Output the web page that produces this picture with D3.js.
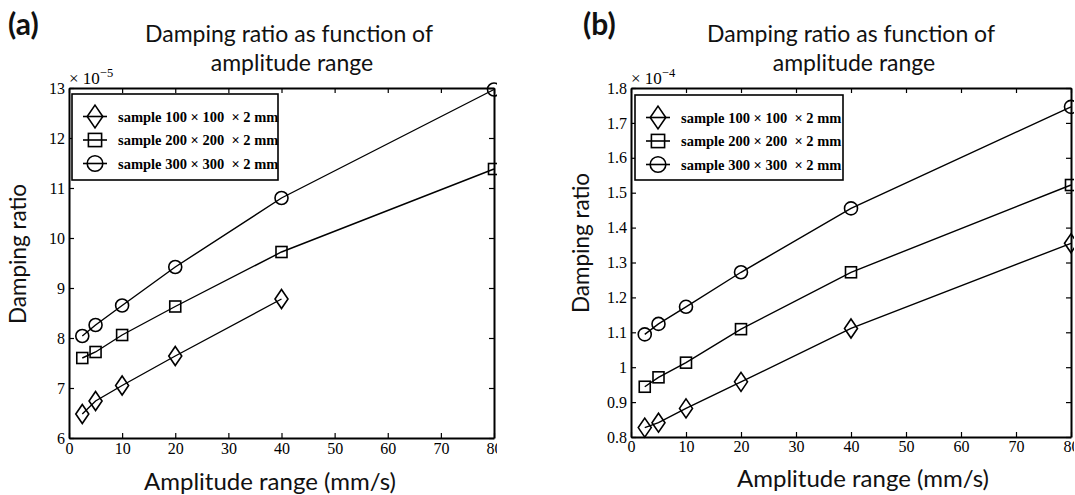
<!DOCTYPE html>
<html>
<head>
<meta charset="utf-8">
<script src="https://cdn.jsdelivr.net/npm/d3@7"></script>
<style>
  body { margin: 0; background: #fff; }
  svg { display: block; }
  .tick text { font-family: "Liberation Serif", "Times New Roman", serif; font-size: 16px; fill: #000; }
  .legend-text { font-family: "Liberation Serif", "Times New Roman", serif; font-size: 14.5px; font-weight: bold; }
  .sans { font-family: Lato, "Noto Sans", sans-serif; fill: #111; }
</style>
</head>
<body>
<svg id="chart" width="1075" height="495"></svg>
<script>
// amplitude range values (mm/s)
const amplitudes = [2.5, 5, 10, 20, 40, 80];
const sampleNames = ["sample 100 \u00d7 100  \u00d7 2 mm", "sample 200 \u00d7 200  \u00d7 2 mm", "sample 300 \u00d7 300  \u00d7 2 mm"];
const markerTypes = ["diamond", "square", "circle"];

// panel (a), x 10^-5
const dampA100 = [6.48, 6.74, 7.05, 7.64, 8.78];
const dampA200 = [7.60, 7.72, 8.06, 8.63, 9.72, 11.38];
const dampA300 = [8.04, 8.26, 8.65, 9.42, 10.80, 12.97];

// panel (b), x 10^-4
const dampB100 = [0.827, 0.841, 0.882, 0.958, 1.111, 1.355];
const dampB200 = [0.944, 0.971, 1.013, 1.109, 1.272, 1.522];
const dampB300 = [1.094, 1.124, 1.173, 1.272, 1.455, 1.746];

const xTicks = [0, 10, 20, 30, 40, 50, 60, 70, 80];
const yTicksA = [6, 7, 8, 9, 10, 11, 12, 13];
const yTicksB = [0.8, 0.9, 1.0, 1.1, 1.2, 1.3, 1.4, 1.5, 1.6, 1.7, 1.8];

const svg = d3.select("#chart");

function drawMarker(g, type, x, y, big) {
    const k = big ? 1.2 : 1;
    if (type === "diamond") {
        const w = 6.5 * k, h = 9.5 * k;
        g.append("path")
            .attr("d", `M${x},${y - h}L${x + w},${y}L${x},${y + h}L${x - w},${y}Z`);
    } else if (type === "square") {
        const s = 5.5 * k;
        g.append("rect")
            .attr("x", x - s).attr("y", y - s)
            .attr("width", 2 * s).attr("height", 2 * s);
    } else {
        g.append("circle")
            .attr("cx", x).attr("cy", y)
            .attr("r", 6.5 * k);
    }
}

function drawPanel(cfg) {
    const w = cfg.right - cfg.left, h = cfg.bottom - cfg.top;
    const x = d3.scaleLinear().domain([0, 80]).range([0, w]);
    const y = d3.scaleLinear().domain(cfg.yDomain).range([h, 0]);

    svg.append("clipPath").attr("id", "clip-" + cfg.id)
        .append("rect")
        .attr("x", -100).attr("y", -100)
        .attr("width", w + 103).attr("height", h + 200);

    const g = svg.append("g")
        .attr("transform", `translate(${cfg.left},${cfg.top})`)
        .attr("clip-path", `url(#clip-${cfg.id})`);

    // series lines and markers
    cfg.series.forEach(function (vals, i) {
        const pts = vals.map((v, j) => [x(amplitudes[j]), y(v)]);
        g.append("path")
            .attr("d", d3.line()(pts))
            .attr("fill", "none")
            .attr("stroke", "#000")
            .attr("stroke-width", 1.4);
        const mg = g.append("g")
            .attr("fill", "none")
            .attr("stroke", "#000")
            .attr("stroke-width", 1.6);
        pts.forEach(p => drawMarker(mg, markerTypes[i], p[0], p[1], false));
    });

    // axes box, ticks pointing inward
    g.append("g")
        .attr("transform", `translate(0,${h})`)
        .call(d3.axisBottom(x).tickValues(xTicks).tickSizeInner(-5).tickSizeOuter(0).tickPadding(cfg.xPad));
    g.append("g")
        .call(d3.axisTop(x).tickValues(xTicks).tickSizeInner(-5).tickSizeOuter(0).tickFormat(""));
    g.append("g")
        .call(d3.axisLeft(y).tickValues(cfg.yTicks).tickSizeInner(-5).tickSizeOuter(0).tickPadding(4).tickFormat(d3.format("~g")));
    g.append("g")
        .attr("transform", `translate(${w},0)`)
        .call(d3.axisRight(y).tickValues(cfg.yTicks).tickSizeInner(-5).tickSizeOuter(0).tickFormat(""));
    g.selectAll(".domain").attr("stroke-width", 2);
    g.selectAll(".tick line").attr("stroke-width", 1.2);

    // legend
    const lg = svg.append("g");
    lg.append("rect")
        .attr("x", cfg.legend.x).attr("y", cfg.legend.y)
        .attr("width", cfg.legend.w).attr("height", cfg.legend.h)
        .attr("fill", "#fff").attr("stroke", "#000").attr("stroke-width", 1.6);
    sampleNames.forEach(function (name, i) {
        const ry = cfg.legend.y + 22.5 + i * 23.5;
        const mx = cfg.legend.x + 23;
        lg.append("line")
            .attr("x1", mx - 12).attr("x2", mx + 12)
            .attr("y1", ry).attr("y2", ry)
            .attr("stroke", "#000").attr("stroke-width", 1.6);
        const mg = lg.append("g").attr("fill", "none").attr("stroke", "#000").attr("stroke-width", 1.6);
        drawMarker(mg, markerTypes[i], mx, ry, true);
        lg.append("text")
            .attr("class", "legend-text")
            .attr("x", cfg.legend.x + 46)
            .attr("y", ry + 5)
            .attr("xml:space", "preserve")
            .text(name);
    });

    // exponent label
    const ex = svg.append("text")
        .attr("x", cfg.left)
        .attr("y", cfg.top - 4)
        .attr("font-family", "Liberation Serif, serif")
        .attr("font-size", 17);
    ex.append("tspan").text("\u00d7 10");
    ex.append("tspan").attr("dy", -7).attr("font-size", 12.5).text("\u2212" + cfg.exp);

    // panel tag and titles
    svg.append("text").attr("class", "sans")
        .attr("x", cfg.tagX).attr("y", 35)
        .attr("font-size", 30).attr("font-weight", "bold")
        .text(cfg.tag);
    svg.append("text").attr("class", "sans")
        .attr("x", cfg.titleX).attr("y", 42)
        .attr("text-anchor", "middle").attr("font-size", 23)
        .text("Damping ratio as function of");
    svg.append("text").attr("class", "sans")
        .attr("x", cfg.titleX + 3).attr("y", 71)
        .attr("text-anchor", "middle").attr("font-size", 23)
        .text("amplitude range");

    svg.append("text").attr("class", "sans")
        .attr("x", cfg.xLabelX).attr("y", cfg.xLabelY)
        .attr("text-anchor", "middle").attr("font-size", 24)
        .text("Amplitude range (mm/s)");
    svg.append("text").attr("class", "sans")
        .attr("transform", `translate(${cfg.yLabelX},${cfg.yLabelY}) rotate(-90)`)
        .attr("text-anchor", "middle").attr("font-size", 22.5)
        .text("Damping ratio");
}

drawPanel({
    id: "a", tag: "(a)", tagX: 8, titleX: 289, exp: "5",
    left: 69, right: 494, top: 88, bottom: 438,
    yDomain: [6, 13], yTicks: yTicksA, xPad: 5,
    series: [dampA100, dampA200, dampA300],
    legend: { x: 72, y: 94, w: 206, h: 86 },
    xLabelX: 270, xLabelY: 490, yLabelX: 26, yLabelY: 254
});

drawPanel({
    id: "b", tag: "(b)", tagX: 583, titleX: 851, exp: "4",
    left: 631, right: 1071, top: 88, bottom: 437,
    yDomain: [0.8, 1.8], yTicks: yTicksB, xPad: 4,
    series: [dampB100, dampB200, dampB300],
    legend: { x: 635, y: 95, w: 208, h: 85 },
    xLabelX: 863, xLabelY: 487, yLabelX: 589, yLabelY: 243
});
</script>
</body>
</html>
